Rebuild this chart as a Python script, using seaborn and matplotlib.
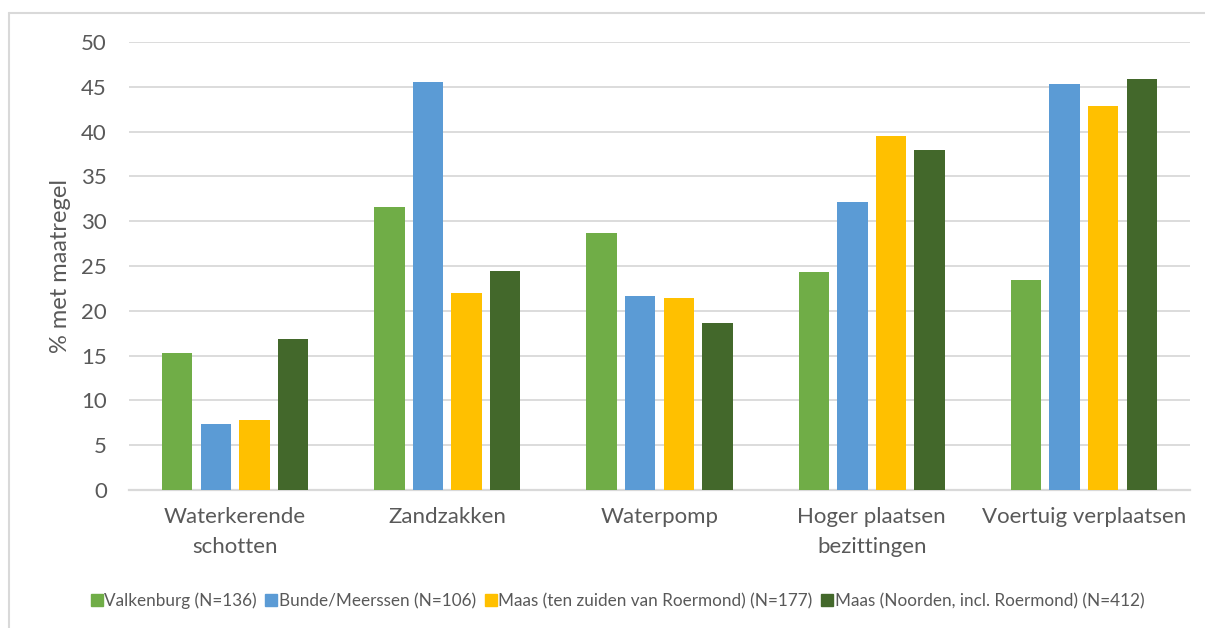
import matplotlib
matplotlib.use("Agg")
import matplotlib.pyplot as plt
from matplotlib.lines import Line2D
import seaborn as sns
import pandas as pd

categories = ["Waterkerende\nschotten", "Zandzakken", "Waterpomp",
              "Hoger plaatsen\nbezittingen", "Voertuig verplaatsen"]
series = ["Valkenburg (N=136)", "Bunde/Meerssen (N=106)",
          "Maas (ten zuiden van Roermond) (N=177)",
          "Maas (Noorden, incl. Roermond) (N=412)"]
valkenburg = [15.3, 31.6, 28.7, 24.3, 23.4]
bunde_meerssen = [7.4, 45.5, 21.7, 32.1, 45.3]
maas_zuid = [7.8, 22.0, 21.4, 39.5, 42.9]
maas_noord = [16.9, 24.4, 18.6, 37.9, 45.9]
y_ticks = [0, 5, 10, 15, 20, 25, 30, 35, 40, 45, 50]
colors = ["#70AD47", "#5B9BD5", "#FFC000", "#43682B"]

rows = []
for name, vals in zip(series, [valkenburg, bunde_meerssen, maas_zuid, maas_noord]):
    for cat, v in zip(categories, vals):
        rows.append({"categorie": cat, "reeks": name, "waarde": v})
df = pd.DataFrame(rows)

sns.set_theme(style="white")
plt.rcParams["font.family"] = ["Lato", "DejaVu Sans"]
text_color = "#595959"
grid_color = "#D9D9D9"

fig = plt.figure(figsize=(12.05, 6.28), dpi=100)
ax = fig.add_axes([129 / 1205, 1 - 490 / 628, (1190 - 129) / 1205, (490 - 42) / 628])

sns.barplot(data=df, x="categorie", y="waarde", hue="reeks", order=categories,
            hue_order=series, palette=colors, width=0.727, gap=0.21,
            saturation=1, ax=ax, legend=False, edgecolor="none", zorder=3)

ax.set_ylim(0, 50)
ax.set_xlim(-0.5, len(categories) - 0.5)
ax.set_yticks(y_ticks)
ax.set_yticklabels([str(t) for t in y_ticks])
ax.yaxis.grid(True, color=grid_color, linewidth=1.3, zorder=0)
ax.set_axisbelow(True)
for side in ["top", "right", "left"]:
    ax.spines[side].set_visible(False)
ax.spines["bottom"].set_color(grid_color)
ax.spines["bottom"].set_linewidth(1.6)
ax.tick_params(axis="both", length=0, colors=text_color, labelsize=16)
ax.tick_params(axis="y", pad=16)
ax.tick_params(axis="x", pad=12)
for lbl in ax.get_xticklabels():
    lbl.set_linespacing(1.65)
ax.set_xlabel("")
ax.set_ylabel("% met maatregel", color=text_color, fontsize=17, labelpad=7)

handles = [Line2D([0], [0], marker="s", linestyle="none", markersize=9,
                  markerfacecolor=c, markeredgecolor=c) for c in colors]
fig.legend(handles, series, loc="center", bbox_to_anchor=(618 / 1205, 1 - 601 / 628),
           ncol=4, frameon=False, fontsize=12.3, handlelength=0.6,
           handletextpad=0.15, columnspacing=0.55, labelcolor=text_color)

# chart frame
fig.add_artist(Line2D([9 / 1205, 9 / 1205], [0, 1 - 13 / 628], transform=fig.transFigure,
                      color=grid_color, linewidth=1.5))
fig.add_artist(Line2D([9 / 1205, 1], [1 - 13 / 628, 1 - 13 / 628], transform=fig.transFigure,
                      color=grid_color, linewidth=1.5))

fig.savefig("out.png", dpi=100)
